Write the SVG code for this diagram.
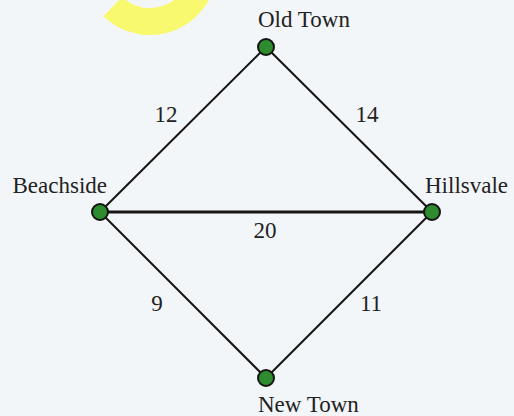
<svg xmlns="http://www.w3.org/2000/svg" width="514" height="416" viewBox="0 0 514 416">
<style>
.edge{stroke:#141414;stroke-width:2;fill:none}
.thick{stroke-width:3}
.node{fill:#2e8b2e;stroke:#141414;stroke-width:2}
.lbl{font-family:'Liberation Serif','Times New Roman',serif;font-size:23px;fill:#222}
.mid{text-anchor:middle}
.end{text-anchor:end}
</style>
<rect width="514" height="416" fill="#f3f6f9"/>
<path d="M112.8,6.5 A53.5,53.5 0 0 0 203.5,-32" fill="none" stroke="#f9f96f" stroke-width="27"/>
<g id="edges">
<line class="edge" x1="100" y1="212" x2="266" y2="47"/>
<line class="edge" x1="266" y1="47" x2="432" y2="212"/>
<line class="edge thick" x1="100" y1="212" x2="432" y2="212"/>
<line class="edge" x1="100" y1="212" x2="266" y2="378"/>
<line class="edge" x1="432" y1="212" x2="266" y2="378"/>
<text class="lbl mid" x="166" y="122">12</text>
<text class="lbl mid" x="367" y="122">14</text>
<text class="lbl mid" x="265" y="238">20</text>
<text class="lbl mid" x="157" y="311">9</text>
<text class="lbl mid" x="371" y="311">11</text>
</g>
<g id="old-town"><circle class="node" cx="266" cy="47" r="8"/><text class="lbl" x="258" y="27">Old Town</text></g>
<g id="beachside"><circle class="node" cx="100" cy="212" r="8"/><text class="lbl end" x="107" y="193">Beachside</text></g>
<g id="hillsvale"><circle class="node" cx="432" cy="212" r="8"/><text class="lbl" x="425" y="193">Hillsvale</text></g>
<g id="new-town"><circle class="node" cx="266" cy="378" r="8"/><text class="lbl" x="258" y="412">New Town</text></g>
</svg>
